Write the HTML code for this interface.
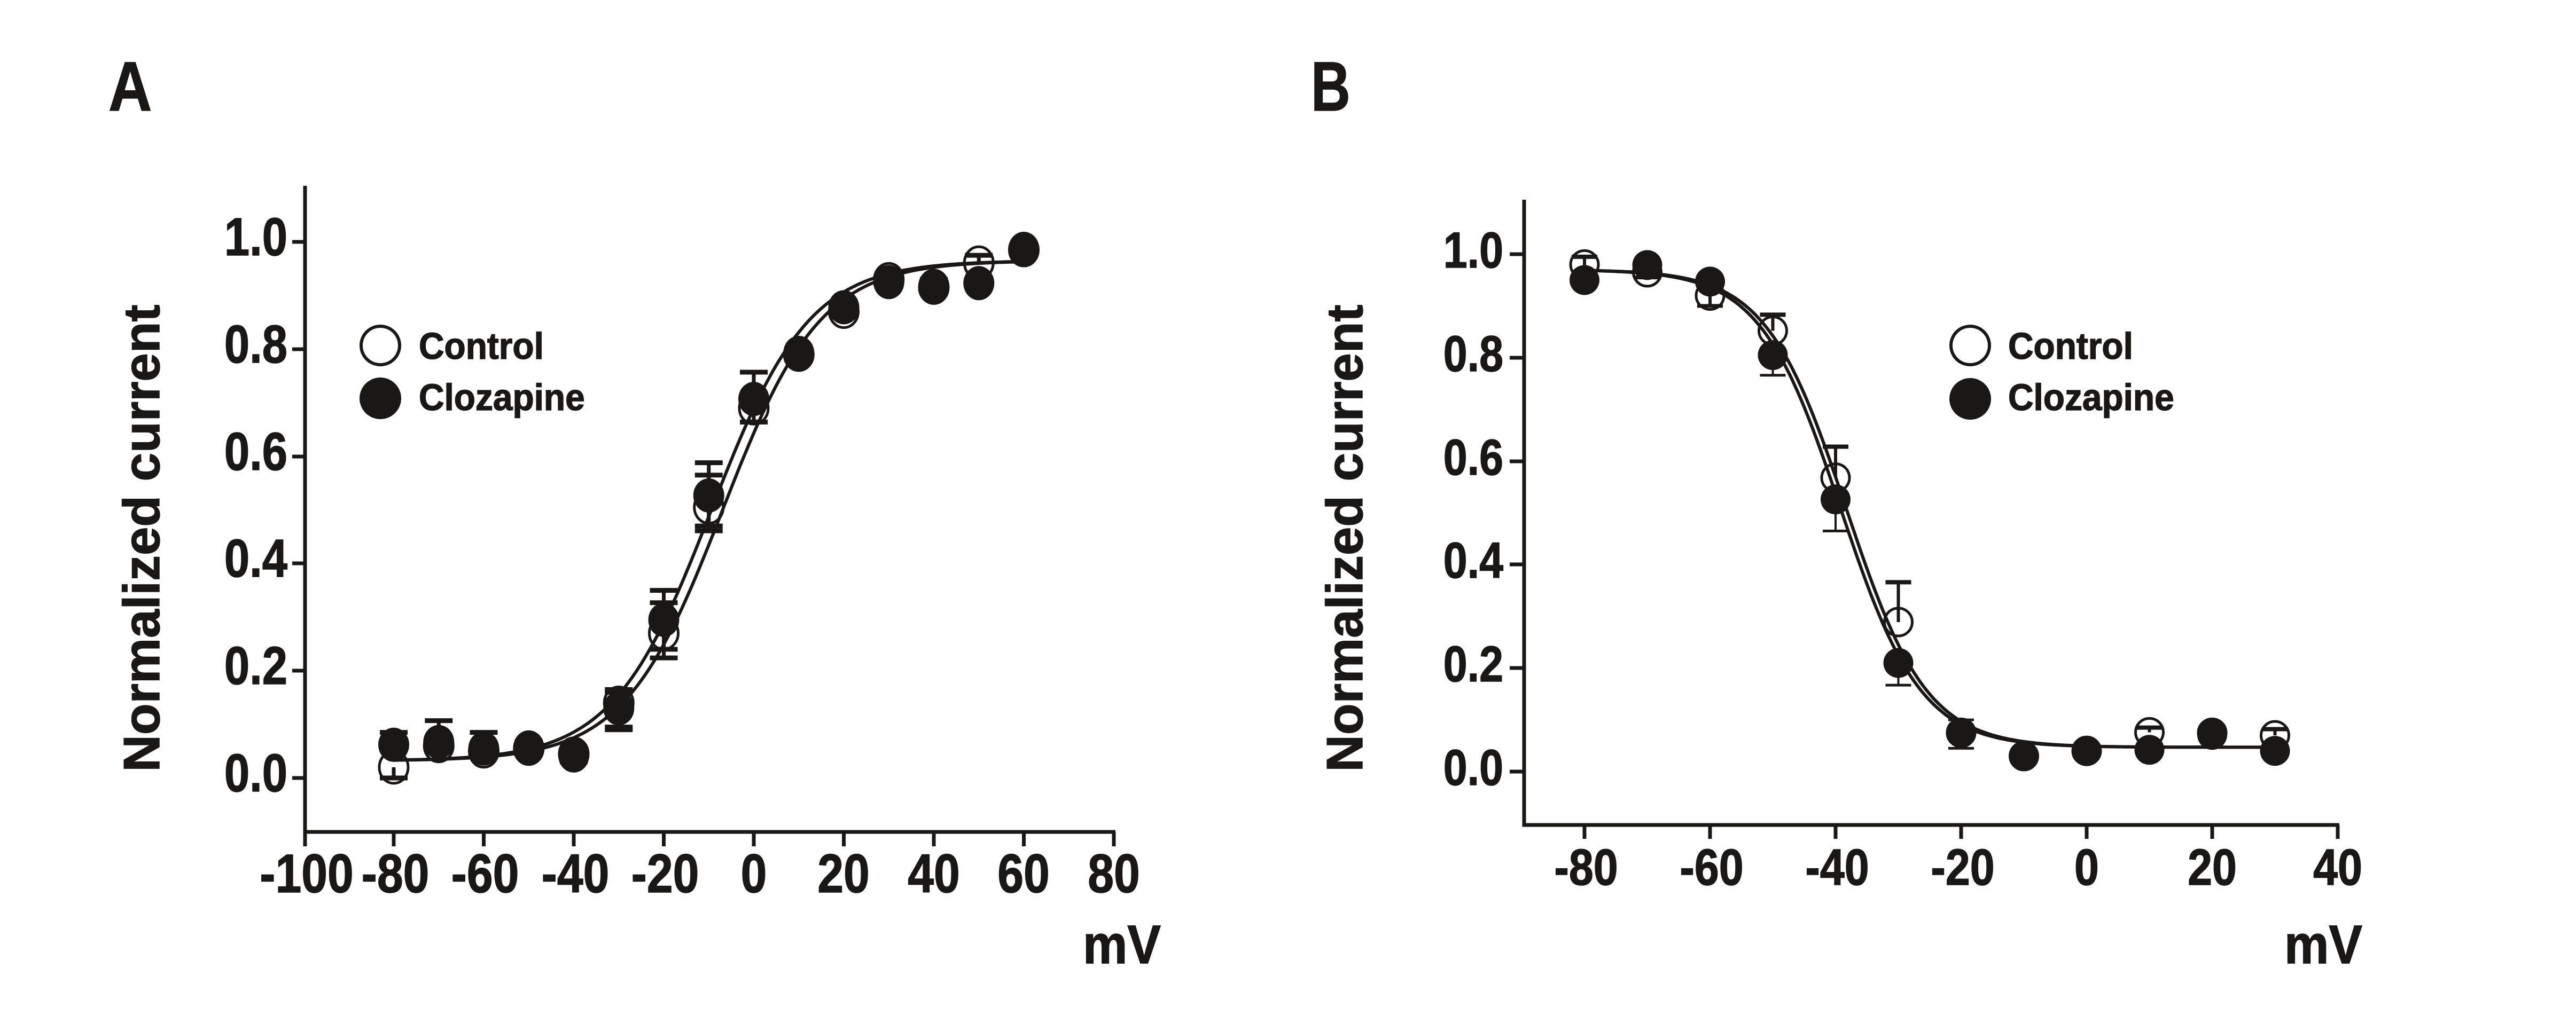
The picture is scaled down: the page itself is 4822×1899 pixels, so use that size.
<!DOCTYPE html>
<html><head><meta charset="utf-8"><style>
html,body{margin:0;padding:0;background:#fff;}
svg{display:block;}
text{font-family:"Liberation Sans",Arial,sans-serif;font-weight:bold;fill:#1a1816;stroke:#1a1816;stroke-width:1.5;}
</style></head><body>
<svg id="s" xmlns="http://www.w3.org/2000/svg" width="4822" height="1899" viewBox="0 0 4822 1899">
<rect width="4822" height="1899" fill="#fff"/>
<!-- Panel letters -->
<g transform="translate(203,207) scale(0.86,1)"><text font-size="131" x="0" y="0">A</text></g>
<g transform="translate(2454,207) scale(0.78,1)"><text font-size="131" x="0" y="0">B</text></g>

<!-- ===== Panel A axes ===== -->
<g stroke="#1a1816" stroke-width="7" fill="none" stroke-linecap="butt">
<line x1="571" y1="348" x2="571" y2="1585"/>
<line x1="568" y1="1558" x2="2088" y2="1558"/>
<line x1="547" y1="453" x2="571" y2="453"/>
<line x1="547" y1="654" x2="571" y2="654"/>
<line x1="547" y1="855" x2="571" y2="855"/>
<line x1="547" y1="1055" x2="571" y2="1055"/>
<line x1="547" y1="1256" x2="571" y2="1256"/>
<line x1="547" y1="1457" x2="571" y2="1457"/>
<line x1="737" y1="1558" x2="737" y2="1585"/>
<line x1="905.5" y1="1558" x2="905.5" y2="1585"/>
<line x1="1074" y1="1558" x2="1074" y2="1585"/>
<line x1="1242.5" y1="1558" x2="1242.5" y2="1585"/>
<line x1="1411" y1="1558" x2="1411" y2="1585"/>
<line x1="1579.5" y1="1558" x2="1579.5" y2="1585"/>
<line x1="1748" y1="1558" x2="1748" y2="1585"/>
<line x1="1916.5" y1="1558" x2="1916.5" y2="1585"/>
<line x1="2085" y1="1558" x2="2085" y2="1585"/>
</g>
<!-- A y tick labels -->
<g font-size="100">
<g transform="translate(538,478) scale(0.85,1)"><text text-anchor="end">1.0</text></g>
<g transform="translate(538,679) scale(0.85,1)"><text text-anchor="end">0.8</text></g>
<g transform="translate(538,880) scale(0.85,1)"><text text-anchor="end">0.6</text></g>
<g transform="translate(538,1080) scale(0.85,1)"><text text-anchor="end">0.4</text></g>
<g transform="translate(538,1281) scale(0.85,1)"><text text-anchor="end">0.2</text></g>
<g transform="translate(538,1482) scale(0.85,1)"><text text-anchor="end">0.0</text></g>
</g>
<!-- A x tick labels -->
<g font-size="102">
<g transform="translate(574,1671) scale(0.86,1)"><text text-anchor="middle">-100</text></g>
<g transform="translate(740,1671) scale(0.86,1)"><text text-anchor="middle">-80</text></g>
<g transform="translate(908,1671) scale(0.86,1)"><text text-anchor="middle">-60</text></g>
<g transform="translate(1077,1671) scale(0.86,1)"><text text-anchor="middle">-40</text></g>
<g transform="translate(1245,1671) scale(0.86,1)"><text text-anchor="middle">-20</text></g>
<g transform="translate(1411,1671) scale(0.86,1)"><text text-anchor="middle">0</text></g>
<g transform="translate(1579,1671) scale(0.86,1)"><text text-anchor="middle">20</text></g>
<g transform="translate(1748,1671) scale(0.86,1)"><text text-anchor="middle">40</text></g>
<g transform="translate(1916,1671) scale(0.86,1)"><text text-anchor="middle">60</text></g>
<g transform="translate(2085,1671) scale(0.86,1)"><text text-anchor="middle">80</text></g>
</g>
<g transform="translate(2027,1804) scale(0.92,1)"><text font-size="102">mV</text></g>
<text font-size="96" transform="translate(298,1008) rotate(-90)" text-anchor="middle">Normalized current</text>
<!-- A legend -->
<circle cx="712" cy="647" r="36" fill="none" stroke="#1a1816" stroke-width="6"/>
<circle cx="712" cy="746" r="39" fill="#1a1816"/>
<g transform="translate(784,672) scale(0.94,1)"><text font-size="70">Control</text></g>
<g transform="translate(784,768) scale(0.94,1)"><text font-size="70">Clozapine</text></g>

<!-- ===== Panel B axes ===== -->
<g stroke="#1a1816" stroke-width="7" fill="none">
<line x1="2853" y1="374" x2="2853" y2="1548"/>
<line x1="2850" y1="1545" x2="4379" y2="1545"/>
<line x1="2826" y1="476" x2="2853" y2="476"/>
<line x1="2826" y1="670" x2="2853" y2="670"/>
<line x1="2826" y1="864" x2="2853" y2="864"/>
<line x1="2826" y1="1057" x2="2853" y2="1057"/>
<line x1="2826" y1="1251" x2="2853" y2="1251"/>
<line x1="2826" y1="1445" x2="2853" y2="1445"/>
<line x1="2966" y1="1545" x2="2966" y2="1571"/>
<line x1="3201" y1="1545" x2="3201" y2="1571"/>
<line x1="3436" y1="1545" x2="3436" y2="1571"/>
<line x1="3671" y1="1545" x2="3671" y2="1571"/>
<line x1="3906" y1="1545" x2="3906" y2="1571"/>
<line x1="4141" y1="1545" x2="4141" y2="1571"/>
<line x1="4376" y1="1545" x2="4376" y2="1571"/>
</g>
<g font-size="95">
<g transform="translate(2814,501) scale(0.85,1)"><text text-anchor="end">1.0</text></g>
<g transform="translate(2814,695) scale(0.85,1)"><text text-anchor="end">0.8</text></g>
<g transform="translate(2814,889) scale(0.85,1)"><text text-anchor="end">0.6</text></g>
<g transform="translate(2814,1082) scale(0.85,1)"><text text-anchor="end">0.4</text></g>
<g transform="translate(2814,1276) scale(0.85,1)"><text text-anchor="end">0.2</text></g>
<g transform="translate(2814,1470) scale(0.85,1)"><text text-anchor="end">0.0</text></g>
</g>
<g font-size="96">
<g transform="translate(2969,1657) scale(0.86,1)"><text text-anchor="middle">-80</text></g>
<g transform="translate(3204,1657) scale(0.86,1)"><text text-anchor="middle">-60</text></g>
<g transform="translate(3439,1657) scale(0.86,1)"><text text-anchor="middle">-40</text></g>
<g transform="translate(3674,1657) scale(0.86,1)"><text text-anchor="middle">-20</text></g>
<g transform="translate(3906,1657) scale(0.86,1)"><text text-anchor="middle">0</text></g>
<g transform="translate(4141,1657) scale(0.86,1)"><text text-anchor="middle">20</text></g>
<g transform="translate(4376,1657) scale(0.86,1)"><text text-anchor="middle">40</text></g>
</g>
<g transform="translate(4276,1804) scale(0.92,1)"><text font-size="102">mV</text></g>
<text font-size="96" transform="translate(2550,1008) rotate(-90)" text-anchor="middle">Normalized current</text>
<!-- B legend -->
<circle cx="3688" cy="647" r="36" fill="none" stroke="#1a1816" stroke-width="6"/>
<circle cx="3688" cy="747" r="39" fill="#1a1816"/>
<g transform="translate(3759,672) scale(0.94,1)"><text font-size="70">Control</text></g>
<g transform="translate(3759,768) scale(0.94,1)"><text font-size="70">Clozapine</text></g>

<g id="dyn"></g>
</svg>
<script>
(function(){
var NS="http://www.w3.org/2000/svg";var g=document.getElementById("dyn");var C="#1a1816";
function el(n,a){var e=document.createElementNS(NS,n);for(var k in a)e.setAttribute(k,a[k]);g.appendChild(e);return e;}
function xA(v){return 737+(v+80)*8.425;} function yA(u){return 1457-1004*u;}
function xB(v){return 4376+(v-40)*11.75;} function yB(u){return 1445-969*u;}
function act(V,b,t,vh,k){return b+(t-b)/(1+Math.exp((vh-V)/k));}
function inact(V,b,t,vh,k){return b+(t-b)/(1+Math.exp((V-vh)/k));}
function curve(fx,fy,f,a,b){var d="";for(var V=a;V<=b+1e-9;V+=0.5){d+=(d?"L":"M")+fx(V).toFixed(1)+","+fy(f(V)).toFixed(1);}el("path",{d:d,fill:"none",stroke:C,"stroke-width":6});}
curve(xA,yA,function(V){return act(V,0.032,0.965,-7,10.9);},-80,60);
curve(xA,yA,function(V){return act(V,0.032,0.965,-9.5,10.9);},-80,60);
curve(xB,yB,function(V){return inact(V,0.047,0.97,-38.3,6.4);},-80,30);
curve(xB,yB,function(V){return inact(V,0.047,0.97,-39.2,6.4);},-80,30);
function ebar(x,y1,y2,cw,sw,cs){el("line",{x1:x,y1:y1,x2:x,y2:y2,stroke:C,"stroke-width":sw});el("line",{x1:x-cw/2,y1:y2,x2:x+cw/2,y2:y2,stroke:C,"stroke-width":cs});}
var aCtl=[[-80,0.02,null,0.0],[-70,0.06,null,null],[-60,0.05,null,null],[-50,0.055,null,null],[-40,0.045,null,null],[-30,0.14,0.165,0.09],[-20,0.27,0.327,0.224],[-10,0.505,0.565,0.47],[0,0.69,null,0.664],[10,0.79,null,null],[20,0.87,null,null],[30,0.93,null,null],[40,0.915,null,null],[50,0.961,0.975,null],[60,0.985,null,null]];
var aClz=[[-80,0.062,0.085,null],[-70,0.067,0.107,null],[-60,0.055,0.085,null],[-50,0.057,0.068,null],[-40,0.042,0.05,0.03],[-30,0.13,0.16,0.095],[-20,0.295,0.35,0.24],[-10,0.527,0.588,0.461],[0,0.707,0.757,0.664],[10,0.793,null,null],[20,0.878,null,0.86],[30,0.925,0.94,null],[40,0.918,0.93,null],[50,0.923,null,null],[60,0.987,null,null]];
function drawA(arr,filled){arr.forEach(function(p){var x=xA(p[0]),y=yA(p[1]);
 if(p[2]!==null)ebar(x,y,yA(p[2]),52,7,9);
 if(p[3]!==null)ebar(x,y,yA(p[3]),52,7,9);
 if(filled)el("ellipse",{cx:x,cy:y,rx:29,ry:32,fill:C});
 else el("ellipse",{cx:x,cy:y,rx:27,ry:30,fill:"none",stroke:C,"stroke-width":5});});}
drawA(aCtl,false);drawA(aClz,true);
var bCtl=[[-80,0.98,0.995,0.965],[-70,0.965,null,0.955],[-60,0.92,null,0.9],[-50,0.852,0.883,null],[-40,0.568,0.628,null],[-30,0.289,0.366,null],[-20,0.075,null,null],[-10,0.03,null,null],[0,0.04,null,null],[10,0.076,0.085,null],[20,0.075,null,null],[30,0.07,0.082,null]];
var bClz=[[-80,0.95,null,null],[-70,0.979,null,null],[-60,0.947,null,null],[-50,0.805,null,0.766],[-40,0.526,null,0.465],[-30,0.21,null,0.167],[-20,0.075,0.10,0.045],[-10,0.03,null,null],[0,0.04,null,null],[10,0.042,null,null],[20,0.071,null,null],[30,0.04,null,null]];
function drawB(arr,filled){arr.forEach(function(p){var x=xB(p[0]),y=yB(p[1]);
 if(p[2]!==null)ebar(x,y,yB(p[2]),48,6,filled?5:8);
 if(p[3]!==null)ebar(x,y,yB(p[3]),48,filled?4:6,filled?5:7);
 if(filled)el("circle",{cx:x,cy:y,r:28,fill:C});
 else el("circle",{cx:x,cy:y,r:26,fill:"none",stroke:C,"stroke-width":5});});}
drawB(bCtl,false);drawB(bClz,true);
})();
</script>
</body></html>
